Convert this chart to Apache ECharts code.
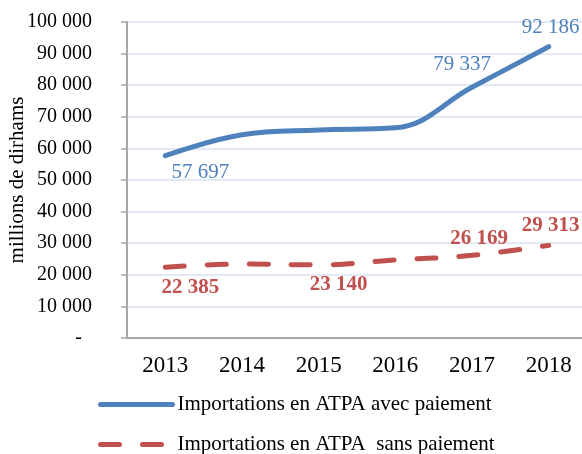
<!DOCTYPE html>
<html>
<head>
<meta charset="utf-8">
<script src="https://cdn.jsdelivr.net/npm/echarts@6/dist/echarts.min.js"></script>
<style>
  html, body { margin: 0; padding: 0; background: #fff; }
  #chart { width: 582px; height: 454px; }
</style>
</head>
<body>
<div id="chart"></div>
<script>
const years = ['2013', '2014', '2015', '2016', '2017', '2018']
const avecPaiement = [57697, 64300, 65800, 66500, 79337, 92186]
const sansPaiement = [22385, 23400, 23140, 24700, 26169, 29313]
const seriesNames = ['Importations en ATPA avec paiement', 'Importations en ATPA  sans paiement']

// which points carry a value label, and where the label sits relative to the point
const avecLabels = { 0: [35, 17], 4: [-10, -23], 5: [2, -19] }
const sansLabels = { 0: [25, 20], 2: [20, 20], 4: [7, -17], 5: [2, -20] }

const FONT = '"Liberation Serif", "Times New Roman", serif'
const BLUE = '#4f81bd'
const RED = '#c0504d'
const DASH = [19, 23]

function fmt(v) {
  if (v === 0) return '-\u00a0\u00a0'
  return String(v).replace(/\B(?=(\d{3})+(?!\d))/g, ' ')
}

// invisible points that only carry the value labels
function labelSeries(values, labels, color, bold) {
  return {
    type: 'scatter',
    symbolSize: 0,
    silent: true,
    itemStyle: { color: color, opacity: 1 },
    data: values.map((v, i) => {
      const off = labels[i]
      if (!off) return null
      return {
        value: [i, v],
        label: {
          show: true,
          position: 'inside',
          offset: off,
          formatter: p => fmt(p.value[1]),
          color: color,
          fontFamily: FONT,
          fontSize: 21,
          fontWeight: bold ? 'bold' : 'normal'
        }
      }
    }).filter(d => d)
  }
}

function legendFor(name, top, lineStyle) {
  return {
    orient: 'vertical',
    left: 98,
    top: top,
    itemWidth: 72,
    itemHeight: 14,
    padding: 0,
    data: [name],
    itemStyle: { opacity: 0 },
    lineStyle: lineStyle,
    textStyle: { fontFamily: FONT, fontSize: 21, color: '#000' }
  }
}

const chart = echarts.init(document.getElementById('chart'))
chart.setOption({
  animation: false,
  grid: { left: 127, right: -5, top: 22, bottom: 116, outerBoundsMode: 'none' },
  legend: [
    legendFor(seriesNames[0], 394, { color: BLUE, width: 5, cap: 'round' }),
    legendFor(seriesNames[1], 434, { color: RED, width: 5, cap: 'round', type: DASH })
  ],
  xAxis: {
    type: 'category',
    data: years,
    axisLine: { lineStyle: { color: '#a6a6a6', width: 2 } },
    axisTick: { show: false },
    axisLabel: { fontFamily: FONT, fontSize: 23, color: '#000', margin: 16 }
  },
  yAxis: {
    type: 'value',
    min: 0,
    max: 100000,
    interval: 10000,
    name: 'millions de dirhams',
    nameLocation: 'middle',
    nameGap: 99,
    nameRotate: 90,
    nameMoveOverlap: false,
    nameTextStyle: { fontFamily: FONT, fontSize: 21, color: '#000' },
    axisLine: { show: true, lineStyle: { color: '#a6a6a6', width: 2 } },
    axisTick: { show: true, length: 6, lineStyle: { color: '#a6a6a6', width: 1.5 } },
    axisLabel: { fontFamily: FONT, fontSize: 20, color: '#000', margin: 35, formatter: fmt },
    splitLine: { lineStyle: { color: '#d9e2f1', width: 1.5 } }
  },
  series: [
    {
      name: seriesNames[0],
      type: 'line',
      smooth: 0.4,
      symbol: 'none',
      data: avecPaiement,
      itemStyle: { color: BLUE },
      lineStyle: { color: BLUE, width: 5, cap: 'round' }
    },
    {
      name: seriesNames[1],
      type: 'line',
      smooth: 0.4,
      symbol: 'none',
      data: sansPaiement,
      itemStyle: { color: RED },
      lineStyle: { color: RED, width: 5, type: DASH, cap: 'round' }
    },
    labelSeries(avecPaiement, avecLabels, BLUE, false),
    labelSeries(sansPaiement, sansLabels, RED, true)
  ]
})
</script>
</body>
</html>
